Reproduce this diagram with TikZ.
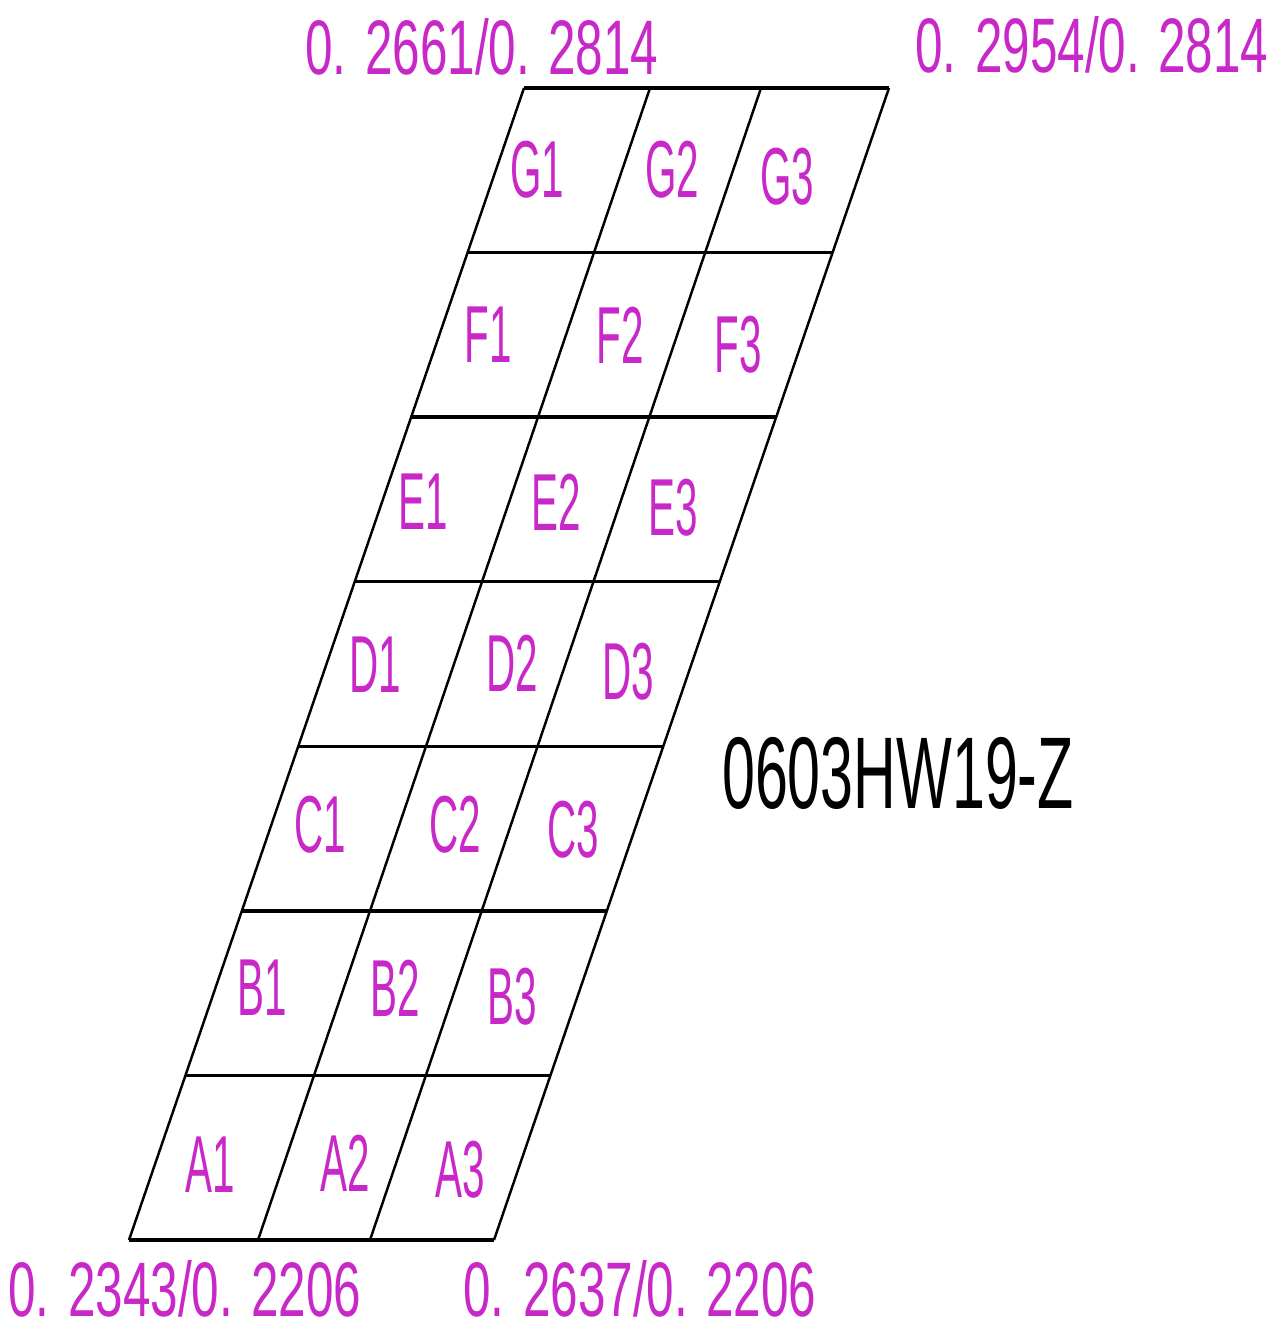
\documentclass[tikz,border=0pt]{standalone}
\usepackage{fontspec}
\setmainfont{Liberation Sans}
\definecolor{cadmag}{RGB}{200,40,200}
\newcommand{\narrow}[2]{\scalebox{#1}[1]{#2}}
\tikzset{
  cell/.style={text=cadmag, inner sep=0pt, font=\fontsize{46}{46}\selectfont},
  corner/.style={text=cadmag, inner sep=0pt, font=\fontsize{44}{44}\selectfont},
  part/.style={text=black, inner sep=0pt, font=\fontsize{58}{58}\selectfont}
}
\begin{document}
\begin{tikzpicture}[x=0.02cm, y=-0.02cm, line width=2pt]
\useasboundingbox (0,0) rectangle (1284,1332);

% rows
\draw (129,1240) -- (494,1240);
\draw (185.4,1075.4) -- (550.4,1075.4);
\draw (241.9,910.9) -- (606.9,910.9);
\draw (298.3,746.3) -- (663.3,746.3);
\draw (354.7,581.7) -- (719.7,581.7);
\draw (411.1,417.1) -- (776.1,417.1);
\draw (467.6,252.6) -- (832.6,252.6);
\draw (524,88) -- (889,88);

% slanted columns
\draw[line width=1.4pt] (129,1240) -- (524,88);
\draw[line width=1.4pt] (258,1240) -- (650,88);
\draw[line width=1.4pt] (370,1240) -- (761,88);
\draw[line width=1.4pt] (494,1240) -- (889,88);

\node[cell] (G1) at (537,170) {\narrow{0.5}{G1}};
\node[cell] (G2) at (672,170) {\narrow{0.5}{G2}};
\node[cell] (G3) at (787,177) {\narrow{0.5}{G3}};
\node[cell] (F1) at (488,335) {\narrow{0.5}{F1}};
\node[cell] (F2) at (620,335) {\narrow{0.5}{F2}};
\node[cell] (F3) at (738,345) {\narrow{0.5}{F3}};
\node[cell] (E1) at (423,502) {\narrow{0.5}{E1}};
\node[cell] (E2) at (556,502) {\narrow{0.5}{E2}};
\node[cell] (E3) at (673,508) {\narrow{0.5}{E3}};
\node[cell] (D1) at (375,665) {\narrow{0.5}{D1}};
\node[cell] (D2) at (512,663) {\narrow{0.5}{D2}};
\node[cell] (D3) at (628,672) {\narrow{0.5}{D3}};
\node[cell] (C1) at (320,825) {\narrow{0.5}{C1}};
\node[cell] (C2) at (455,825) {\narrow{0.5}{C2}};
\node[cell] (C3) at (573,830) {\narrow{0.5}{C3}};
\node[cell] (B1) at (262,988) {\narrow{0.5}{B1}};
\node[cell] (B2) at (395,988) {\narrow{0.5}{B2}};
\node[cell] (B3) at (512,997) {\narrow{0.5}{B3}};
\node[cell] (A1) at (210,1165) {\narrow{0.5}{A1}};
\node[cell] (A2) at (345,1163) {\narrow{0.5}{A2}};
\node[cell] (A3) at (460,1170) {\narrow{0.5}{A3}};

\node[corner] (topleft) at (482,47) {\narrow{0.64}{0. 2661/0. 2814}};
\node[corner] (topright) at (1092,45) {\narrow{0.64}{0. 2954/0. 2814}};
\node[corner] (botleft) at (185,1289) {\narrow{0.64}{0. 2343/0. 2206}};
\node[corner] (botright) at (640,1289) {\narrow{0.64}{0. 2637/0. 2206}};

\node[part] (partno) at (898,773) {\narrow{0.58}{0603HW19-Z}};
\end{tikzpicture}
\end{document}
